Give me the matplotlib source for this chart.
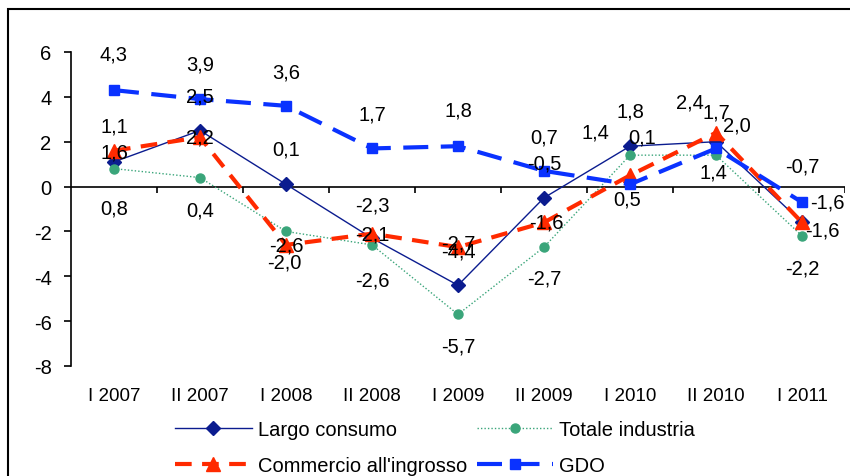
import numpy as np
import matplotlib
matplotlib.use("Agg")
import matplotlib.pyplot as plt
from matplotlib.patches import Rectangle

plt.rcParams["font.family"] = ["Liberation Sans", "DejaVu Sans"]
plt.rcParams["axes.unicode_minus"] = False

periods = ["I 2007", "II 2007", "I 2008", "II 2008", "I 2009",
           "II 2009", "I 2010", "II 2010", "I 2011"]
largo = [1.1, 2.5, 0.1, -2.3, -4.4, -0.5, 1.8, 2.0, -1.6]
totale = [0.8, 0.4, -2.0, -2.6, -5.7, -2.7, 1.4, 1.4, -2.2]
commercio = [1.6, 2.2, -2.6, -2.1, -2.7, -1.6, 0.5, 2.4, -1.6]
gdo = [4.3, 3.9, 3.6, 1.7, 1.8, 0.7, 0.1, 1.7, -0.7]

# label offsets in pixels (dx, dy with y downwards), as placed in the original
off_largo = [(0, -36), (0, -34), (0, -35), (0, -33), (0, -34), (0, -35), (0, -35), (21, -17), (25, -20)]
off_totale = [(0, 39), (0, 32), (-2, 31), (0, 35), (0, 32), (0, 31), (-35, -23), (-3, 17), (0, 32)]
off_comm = [(0, 1), (0, 0), (0, 0), (0, 0), (0, -4), (2, 0), (-3, 24), (-26, -31), (20, 8)]
off_gdo = [(0, -36), (0, -35), (0, -34), (0, -34), (0, -36), (0, -34), (12, -47), (0, -36), (0, -36)]

FS = 14.5
x = np.arange(len(periods))

fig = plt.figure(figsize=(8.5, 4.77), dpi=100)
ax = fig.add_axes([71 / 850, 1 - 367 / 477, (845 - 71) / 850, (367 - 53) / 477])

l1, = ax.plot(x, largo, color="#0b1c8f", lw=1.0, marker="D", ms=7,
              label="Largo consumo", zorder=3)
l2, = ax.plot(x, totale, color="#3aa57a", lw=1.0, ls=(0, (1, 1.5)), marker="o", ms=6.5,
              label="Totale industria", zorder=3)
l3, = ax.plot(x, commercio, color="#ff2a00", lw=3, ls=(0, (4, 2.5)), marker="^", ms=10,
              label="Commercio all'ingrosso", zorder=4)
l4, = ax.plot(x, gdo, color="#0a32ff", lw=3, ls=(0, (6, 3)), marker="s", ms=7.5,
              label="GDO", zorder=5)

for vals, offs in [(largo, off_largo), (totale, off_totale), (commercio, off_comm), (gdo, off_gdo)]:
    for xi, v, (dx, dy) in zip(x, vals, offs):
        ax.annotate(f"{v:.1f}".replace(".", ","), (xi, v), xytext=(dx, -dy),
                    textcoords="offset pixels", ha="center", va="center",
                    fontsize=FS, zorder=10)

ax.set_xlim(-0.5, len(periods) - 0.5)
ax.set_ylim(-8, 6)
ax.set_yticks(np.arange(-8, 7, 2))
ax.set_yticklabels([str(v) for v in range(-8, 7, 2)], fontsize=FS)
ax.tick_params(axis="y", direction="out", length=5, width=1.2, pad=9)
ax.set_xticks(x)
ax.set_xticklabels(periods, fontsize=FS - 1)
ax.tick_params(axis="x", length=0, pad=15)

for s in ["top", "right", "bottom"]:
    ax.spines[s].set_visible(False)
ax.spines["left"].set_linewidth(1.2)

# horizontal axis at zero with category boundary ticks
ax.axhline(0, color="black", lw=1.2, zorder=2)
ax.vlines(x + 0.5, -0.3, 0, color="black", lw=1.2, zorder=2)

fig.add_artist(Rectangle((8 / 850, -0.2), 1.2, 1.2 - 10 / 477, transform=fig.transFigure,
                         fill=False, lw=1.5, edgecolor="black"))

# legend filled column-wise, so order gives rows: Largo | Totale, Commercio | GDO
fig.legend(handles=[l1, l3, l2, l4], loc="upper left",
           bbox_to_anchor=(175 / 850, 1 - 421 / 477), ncol=2, frameon=False,
           fontsize=FS, handlelength=3.8, handletextpad=0.3, columnspacing=0.5,
           labelspacing=0.85, borderpad=0, borderaxespad=0)

fig.savefig("out.png", dpi=100)
